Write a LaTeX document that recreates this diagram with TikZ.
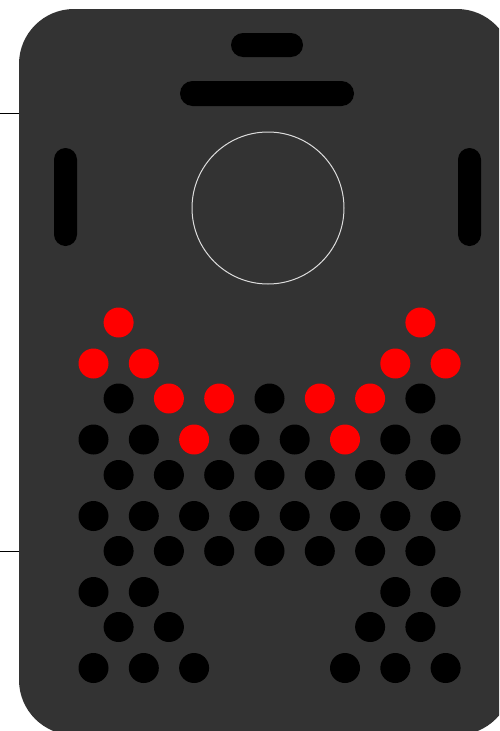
\documentclass[tikz,border=0pt]{standalone}
\usetikzlibrary{calc}
\definecolor{body}{HTML}{333333}
\definecolor{ring}{HTML}{DDDDDD}
\definecolor{hot}{HTML}{FF0000}
\tikzset{
  pill/.style={fill=black},
  dot/.style={fill=black},
  hotdot/.style={fill=hot},
  tick/.style={draw=black, line width=1pt}
}
\begin{document}
\begin{tikzpicture}[x=1pt,y=-1pt]
\useasboundingbox (0,0) rectangle (499,731);
\begin{scope}
\clip (0,0) rectangle (499,731);
\fill[body, rounded corners=55pt] (19,9) rectangle (512,735);
\end{scope}
% side ticks
\draw[tick] (0,113) -- (19,113);
\draw[tick] (0,551) -- (19,551);
% top slots
\fill[pill, rounded corners=12pt] (231,33) rectangle (303,57);
\fill[pill, rounded corners=12.5pt] (180,81) rectangle (354,106);
% side slots
\fill[pill, rounded corners=11.5pt] (54,148) rectangle (77,246);
\fill[pill, rounded corners=11.5pt] (458,148) rectangle (481,246);
% lens ring
\draw[ring, line width=1pt] (268,208) circle (76);
% dots
\def\ax#1{93.5+50.3*#1}
\def\bx#1{118.6+50.3*#1}
% row 1 (B, y=322.5)
\foreach \k in {0,6} \fill[hotdot] ({\bx{\k}},322.5) circle (15);
% row 2 (A, y=363.5)
\foreach \k in {0,1,6,7} \fill[hotdot] ({\ax{\k}},363.5) circle (15);
% row 3 (B, y=398.5)
\foreach \k in {0,3,6} \fill[dot] ({\bx{\k}},398.5) circle (15);
\foreach \k in {1,2,4,5} \fill[hotdot] ({\bx{\k}},398.5) circle (15);
% row 4 (A, y=439.5)
\foreach \k in {0,1,3,4,6,7} \fill[dot] ({\ax{\k}},439.5) circle (15);
\foreach \k in {2,5} \fill[hotdot] ({\ax{\k}},439.5) circle (15);
% row 5 (B, y=475)
\foreach \k in {0,...,6} \fill[dot] ({\bx{\k}},475) circle (15);
% row 6 (A, y=516)
\foreach \k in {0,...,7} \fill[dot] ({\ax{\k}},516) circle (15);
% row 7 (B, y=551)
\foreach \k in {0,...,6} \fill[dot] ({\bx{\k}},551) circle (15);
% row 8 (A, y=592)
\foreach \k in {0,1,6,7} \fill[dot] ({\ax{\k}},592) circle (15);
% row 9 (B, y=627)
\foreach \k in {0,1,5,6} \fill[dot] ({\bx{\k}},627) circle (15);
% row 10 (A, y=668)
\foreach \k in {0,1,2,5,6,7} \fill[dot] ({\ax{\k}},668) circle (15);
\end{tikzpicture}
\end{document}
